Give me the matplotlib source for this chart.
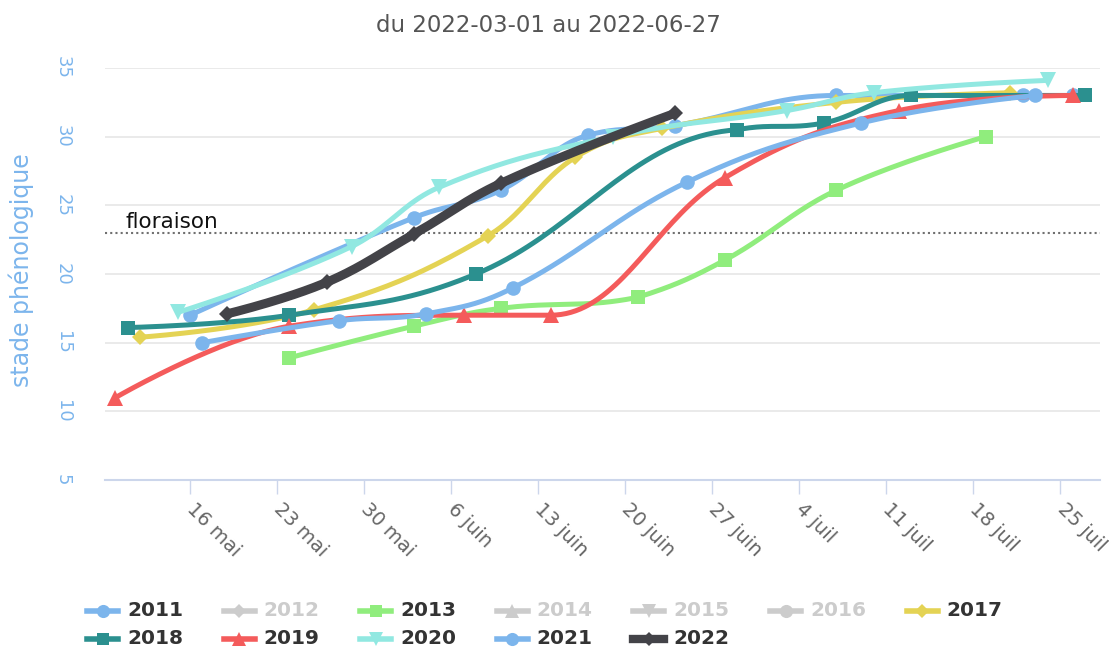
import numpy as np
import matplotlib
matplotlib.use("Agg")
import matplotlib.pyplot as plt
from matplotlib.lines import Line2D

# ---------------- data ----------------
title = "du 2022-03-01 au 2022-06-27"
y_title = "stade phénologique"
threshold_label = "floraison"
threshold_value = 23

tick_dates = ["05-16", "05-23", "05-30", "06-06", "06-13", "06-20",
              "06-27", "07-04", "07-11", "07-18", "07-25"]
tick_labels = ["16 mai", "23 mai", "30 mai", "6 juin", "13 juin", "20 juin",
               "27 juin", "4 juil", "11 juil", "18 juil", "25 juil"]
y_ticks = [5, 10, 15, 20, 25, 30, 35]

years = ["2011", "2012", "2013", "2014", "2015", "2016", "2017",
         "2018", "2019", "2020", "2021", "2022"]
hidden_years = ["2012", "2014", "2015", "2016"]

dates_2011 = ["05-16", "06-03", "06-10", "06-17", "06-24", "07-07", "07-22", "07-26"]
values_2011 = [17.0, 24.1, 26.1, 30.1, 30.8, 33.0, 33.0, 33.0]

dates_2013 = ["05-24", "06-03", "06-10", "06-21", "06-28", "07-07", "07-19"]
values_2013 = [13.9, 16.2, 17.5, 18.3, 21.0, 26.1, 30.0]

dates_2017 = ["05-12", "05-26", "06-09", "06-16", "06-23", "07-07", "07-21"]
values_2017 = [15.4, 17.4, 22.8, 28.5, 30.6, 32.5, 33.2]

dates_2018 = ["05-11", "05-24", "06-08", "06-29", "07-06", "07-13", "07-27"]
values_2018 = [16.1, 17.0, 20.0, 30.5, 31.0, 33.0, 33.0]

dates_2019 = ["05-10", "05-24", "06-07", "06-14", "06-28", "07-12", "07-26"]
values_2019 = [11.0, 16.2, 17.0, 17.0, 27.0, 31.9, 33.0]

dates_2020 = ["05-15", "05-29", "06-05", "06-19", "07-03", "07-10", "07-24"]
values_2020 = [17.2, 22.0, 26.3, 30.0, 31.9, 33.2, 34.1]

dates_2021 = ["05-17", "05-28", "06-04", "06-11", "06-25", "07-09", "07-23"]
values_2021 = [15.0, 16.6, 17.1, 19.0, 26.7, 31.0, 33.0]

dates_2022 = ["05-19", "05-27", "06-03", "06-10", "06-24"]
values_2022 = [17.1, 19.4, 22.9, 26.6, 31.7]

series_dates = {"2011": dates_2011, "2013": dates_2013, "2017": dates_2017,
                "2018": dates_2018, "2019": dates_2019, "2020": dates_2020,
                "2021": dates_2021, "2022": dates_2022}
series_values = {"2011": values_2011, "2013": values_2013, "2017": values_2017,
                 "2018": values_2018, "2019": values_2019, "2020": values_2020,
                 "2021": values_2021, "2022": values_2022}

# ---------------- styles ----------------
colors = {"2011": "#7cb5ec", "2012": "#434348", "2013": "#90ed7d", "2014": "#f7a35c",
          "2015": "#8085e9", "2016": "#f15c80", "2017": "#e4d354", "2018": "#2b908f",
          "2019": "#f45b5b", "2020": "#91e8e1", "2021": "#7cb5ec", "2022": "#434348"}
markers = {"2011": "o", "2012": "D", "2013": "s", "2014": "^", "2015": "v",
           "2016": "o", "2017": "D", "2018": "s", "2019": "^", "2020": "v",
           "2021": "o", "2022": "D"}
msizes = {"o": 10.5, "D": 8.0, "s": 10.0, "^": 11.0, "v": 11.0}
hidden_color = "#cccccc"


def doy(md):
    d = np.datetime64("2022-" + md)
    return float((d - np.datetime64("2022-01-01")).astype(int))


def spline(xs, ys, smoothing=1.5, n=40):
    xs = np.asarray(xs, float)
    ys = np.asarray(ys, float)
    m = len(xs)
    left = [(xs[i], ys[i]) for i in range(m)]
    right = [(xs[i], ys[i]) for i in range(m)]
    den = smoothing + 1
    for i in range(1, m - 1):
        x, y = xs[i], ys[i]
        lx, ly = xs[i - 1], ys[i - 1]
        nx, ny = xs[i + 1], ys[i + 1]
        lcx = (smoothing * x + lx) / den
        lcy = (smoothing * y + ly) / den
        rcx = (smoothing * x + nx) / den
        rcy = (smoothing * y + ny) / den
        corr = 0.0
        if rcx != lcx:
            corr = (rcy - lcy) * (rcx - x) / (rcx - lcx) + y - rcy
        lcy += corr
        rcy += corr
        if lcy > ly and lcy > y:
            lcy = max(ly, y); rcy = 2 * y - lcy
        elif lcy < ly and lcy < y:
            lcy = min(ly, y); rcy = 2 * y - lcy
        if rcy > ny and rcy > y:
            rcy = max(ny, y); lcy = 2 * y - rcy
        elif rcy < ny and rcy < y:
            rcy = min(ny, y); lcy = 2 * y - rcy
        left[i] = (lcx, lcy)
        right[i] = (rcx, rcy)
    px, py = [xs[0]], [ys[0]]
    t = np.linspace(0, 1, n)[1:]
    for i in range(1, m):
        p0 = np.array([xs[i - 1], ys[i - 1]])
        p1 = np.array(right[i - 1])
        p2 = np.array(left[i])
        p3 = np.array([xs[i], ys[i]])
        b = ((1 - t) ** 3)[:, None] * p0 + (3 * (1 - t) ** 2 * t)[:, None] * p1 \
            + (3 * (1 - t) * t ** 2)[:, None] * p2 + (t ** 3)[:, None] * p3
        px.extend(b[:, 0]); py.extend(b[:, 1])
    return np.array(px), np.array(py)


W, H = 1113, 649
fig = plt.figure(figsize=(W / 100, H / 100), dpi=100)
fig.patch.set_facecolor("white")

L, R, T, B = 105, 1100, 68, 480
ax = fig.add_axes([L / W, (H - B) / H, (R - L) / W, (B - T) / H])

x_left = doy("05-16") - 6.84
x_right = doy("05-16") + 73.2
ax.set_xlim(x_left, x_right)
ax.set_ylim(5, 35)

for s in ["top", "right", "left"]:
    ax.spines[s].set_visible(False)
ax.spines["bottom"].set_color("#ccd6eb")
ax.spines["bottom"].set_linewidth(1.5)

ax.set_yticks(y_ticks)
ax.set_yticklabels([str(v) for v in y_ticks], rotation=-90, va="center", ha="right",
                   color="#7cb5ec", fontsize=13)
ax.tick_params(axis="y", length=0, pad=24)
ax.yaxis.grid(True, color="#e6e6e6", linewidth=1.2)
ax.set_axisbelow(True)

ax.set_xticks([doy(d) for d in tick_dates])
ax.set_xticklabels(tick_labels, rotation=-45, ha="left", va="center",
                   rotation_mode="anchor", color="#666666", fontsize=14)
ax.tick_params(axis="x", length=10, width=1, color="#ccd6eb", pad=9)

# threshold line
ax.axhline(threshold_value, color="#707070", linestyle=(0, (1, 1.5)), linewidth=1.5, zorder=1)
ax.text((125 - L) / (R - L), threshold_value + 0.35, threshold_label,
        transform=ax.get_yaxis_transform(), fontsize=15.5, color="#111111",
        ha="left", va="baseline")

z = 3
for yr in years:
    if yr in hidden_years:
        continue
    xs = [doy(d) for d in series_dates[yr]]
    ys = series_values[yr]
    sx, sy = spline(xs, ys)
    lw = 6.5 if yr == "2022" else 3.6
    ax.plot(sx, sy, color=colors[yr], linewidth=lw, solid_capstyle="round",
            solid_joinstyle="round", zorder=z, clip_on=False)
    mk = markers[yr]
    ms = msizes[mk] * (1.0 if yr != "2022" else 1.05)
    ax.plot(xs, ys, linestyle="none", marker=mk, markersize=ms,
            color=colors[yr], markeredgewidth=0, zorder=z + 0.5, clip_on=False)
    z += 1

# title and y title
fig.text(548 / W, 1 - 25 / H, title, ha="center", va="center", fontsize=16.5, color="#555555")
fig.text(21 / W, 1 - 270 / H, y_title, ha="center", va="center", rotation=90,
         fontsize=17, color="#7cb5ec")

# legend (manual, row-wise like the original)
for i, yr in enumerate(years):
    col, row = i % 7, i // 7
    x0 = 87 + col * 136.6
    yc = 611 + row * 28
    hidden = yr in hidden_years
    c = hidden_color if hidden else colors[yr]
    lw = 6.0 if yr == "2022" else 4.0
    fig.add_artist(Line2D([x0 / W, (x0 + 31) / W], [1 - yc / H, 1 - yc / H],
                          color=c, linewidth=lw, transform=fig.transFigure))
    mk = markers[yr]
    fig.add_artist(Line2D([(x0 + 15.5) / W], [1 - yc / H], marker=mk,
                          markersize=msizes[mk] * 0.9, color=c, markeredgewidth=0,
                          linestyle="none", transform=fig.transFigure))
    fig.text((x0 + 40) / W, 1 - yc / H, yr, ha="left", va="center", fontsize=14.5,
             fontweight="bold", color=hidden_color if hidden else "#333333")

fig.savefig("out.png", dpi=100, facecolor="white")
